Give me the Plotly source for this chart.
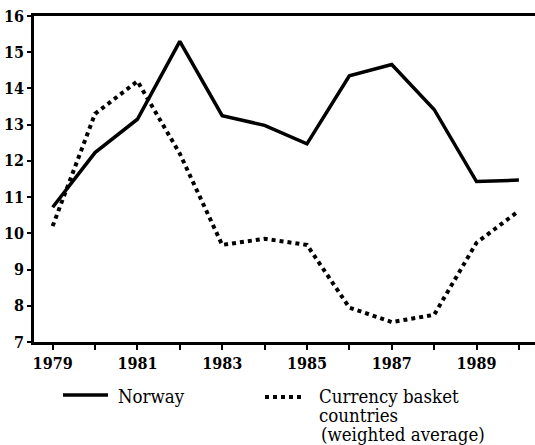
import plotly.graph_objects as go

years = [1979, 1980, 1981, 1982, 1983, 1984, 1985, 1986, 1987, 1988, 1989, 1990]
norway = [10.72, 12.23, 13.15, 15.3, 13.25, 12.98, 12.47, 14.35, 14.66, 13.42, 11.43, 11.47]
basket = [10.2, 13.3, 14.2, 12.2, 9.68, 9.85, 9.68, 7.95, 7.55, 7.75, 9.74, 10.62]

x_tickvals = list(range(1979, 1991))
x_ticktext = [str(y) if y % 2 == 1 else "" for y in x_tickvals]
y_tickvals = list(range(7, 17))

serif = "DejaVu Serif Condensed"

# plot area in pixels (for placing the hand-made legend)
L, T, W, H = 34, 16, 501, 326


def px(x):
    return (x - L) / W


def py(y):
    return (T + H - y) / H


fig = go.Figure()
fig.add_trace(go.Scatter(x=years, y=norway, mode="lines", name="Norway",
                         line=dict(color="black", width=3.5)))
fig.add_trace(go.Scatter(x=years, y=basket, mode="lines", name="Currency basket countries",
                         line=dict(color="black", width=4, dash="4px,4px")))

fig.update_layout(
    width=535, height=445,
    margin=dict(l=L, r=535 - L - W, t=T, b=445 - T - H),
    paper_bgcolor="white", plot_bgcolor="white",
    showlegend=False,
    font=dict(family=serif, color="black"),
)
fig.update_xaxes(range=[1978.56, 1990.38], tickvals=x_tickvals, ticktext=x_ticktext,
                 ticks="outside", ticklen=5, tickwidth=2, tickcolor="black",
                 showline=True, linewidth=2.5, linecolor="black", mirror=True,
                 showgrid=False, zeroline=False,
                 tickfont=dict(family=serif, size=16, weight="bold", color="black"))
fig.update_yaxes(range=[7, 16], tickvals=y_tickvals,
                 ticks="outside", ticklen=4, tickwidth=2, tickcolor="black",
                 showline=True, linewidth=2.5, linecolor="black",
                 showgrid=False, zeroline=False,
                 tickfont=dict(family=serif, size=16, weight="bold", color="black"))

# legend drawn below the axis
fig.add_shape(type="line", xref="paper", yref="paper",
              x0=px(63), x1=px(108), y0=py(395), y1=py(395),
              line=dict(color="black", width=3.5))
fig.add_shape(type="line", xref="paper", yref="paper",
              x0=px(265), x1=px(303), y0=py(397), y1=py(397),
              line=dict(color="black", width=4, dash="4px,4px"))

legend_text = [("Norway", 116, 396), ("Currency basket", 317, 396),
               ("countries", 317, 415), ("(weighted average)", 319, 434)]
for txt, x, y in legend_text:
    fig.add_annotation(text=txt, xref="paper", yref="paper", x=px(x), y=py(y),
                       xanchor="left", yanchor="middle", showarrow=False,
                       font=dict(family=serif, size=18.5, color="black"))

fig.write_html("out.html", config={"displayModeBar": False},
               post_script="document.body.style.margin='0';document.body.style.overflow='hidden';")
